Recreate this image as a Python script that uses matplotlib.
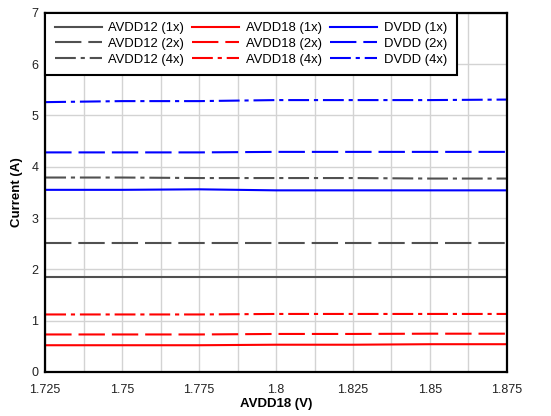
import numpy as np
import matplotlib.pyplot as plt

plt.rcParams['font.family'] = ['Liberation Sans', 'DejaVu Sans']
plt.rcParams['lines.scale_dashes'] = False

# supply voltage sweep
avdd18_v = [1.725, 1.75, 1.775, 1.8, 1.825, 1.85, 1.875]

# currents (A)
avdd12_1x = [1.86, 1.86, 1.86, 1.86, 1.86, 1.86, 1.86]
avdd12_2x = [2.52, 2.52, 2.52, 2.52, 2.52, 2.52, 2.52]
avdd12_4x = [3.79, 3.79, 3.78, 3.78, 3.78, 3.77, 3.77]
avdd18_1x = [0.52, 0.52, 0.52, 0.53, 0.53, 0.54, 0.54]
avdd18_2x = [0.73, 0.73, 0.73, 0.74, 0.74, 0.745, 0.745]
avdd18_4x = [1.12, 1.12, 1.12, 1.13, 1.13, 1.13, 1.13]
dvdd_1x = [3.55, 3.55, 3.56, 3.54, 3.54, 3.54, 3.54]
dvdd_2x = [4.28, 4.28, 4.28, 4.29, 4.29, 4.29, 4.29]
dvdd_4x = [5.26, 5.28, 5.28, 5.30, 5.30, 5.30, 5.31]

xticks = [1.725, 1.75, 1.775, 1.8, 1.825, 1.85, 1.875]
xtick_labels = ['1.725', '1.75', '1.775', '1.8', '1.825', '1.85', '1.875']

gray = '#505050'
red = '#ff0000'
blue = '#0000ff'
solid = '-'
dash = (0, (19, 5))
dashdot = (0, (15, 3.5, 3, 3.5))

fig = plt.figure(figsize=(5.51, 4.16), dpi=100)
ax = fig.add_axes([0.082, 0.106, 0.838, 0.863])

series = [
    (avdd12_1x, gray, solid, 'AVDD12 (1x)'),
    (avdd12_2x, gray, dash, 'AVDD12 (2x)'),
    (avdd12_4x, gray, dashdot, 'AVDD12 (4x)'),
    (avdd18_1x, red, solid, 'AVDD18 (1x)'),
    (avdd18_2x, red, dash, 'AVDD18 (2x)'),
    (avdd18_4x, red, dashdot, 'AVDD18 (4x)'),
    (dvdd_1x, blue, solid, 'DVDD (1x)'),
    (dvdd_2x, blue, dash, 'DVDD (2x)'),
    (dvdd_4x, blue, dashdot, 'DVDD (4x)'),
]
for y, c, ls, lab in series:
    ax.plot(avdd18_v, y, color=c, linestyle=ls, linewidth=1.5, label=lab)

ax.set_xlim(1.725, 1.875)
ax.set_ylim(0, 7)
ax.set_xticks(xticks)
ax.set_xticklabels(xtick_labels)
ax.set_xticks(np.arange(1.7375, 1.875, 0.025), minor=True)
ax.set_yticks(range(0, 8))
ax.grid(True, which='both', color='#d3d3d3', linewidth=1)
ax.set_axisbelow(True)
ax.tick_params(which='both', length=0, labelsize=9, colors='#222222')
ax.tick_params(axis='x', pad=9)
ax.tick_params(axis='y', pad=5)
for s in ax.spines.values():
    s.set_linewidth(1.6)
    s.set_color('black')

ax.set_xlabel('AVDD18 (V)', fontsize=9.5, fontweight='bold', labelpad=1)
ax.set_ylabel('Current (A)', fontsize=9.5, fontweight='bold', labelpad=6)

leg = ax.legend(loc='upper left', ncol=3, fontsize=9.4, frameon=True, fancybox=False,
                borderaxespad=0, handlelength=3.6, handletextpad=0.5,
                columnspacing=0.65, labelspacing=0.26, borderpad=0.72)
leg.get_frame().set_edgecolor('black')
leg.get_frame().set_linewidth(1.5)
leg.get_frame().set_alpha(1)

fig.savefig('out.png', dpi=100)
